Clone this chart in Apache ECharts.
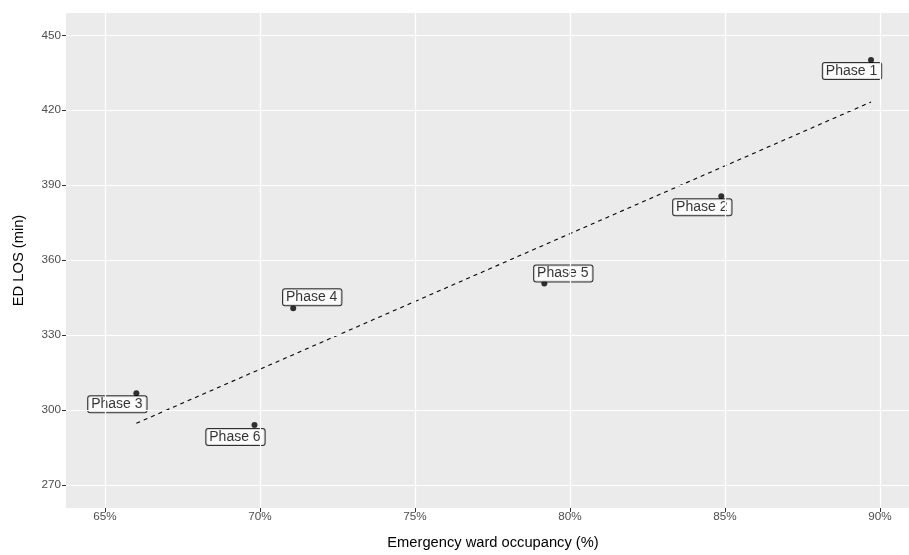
<!DOCTYPE html>
<html>
<head>
<meta charset="utf-8">
<script src="https://cdn.jsdelivr.net/npm/echarts@6/dist/echarts.min.js"></script>
<style>
html,body{margin:0;padding:0;background:#fff;}
#chart{width:909px;height:555px;}
</style>
</head>
<body>
<div id="chart"></div>
<script>
// ---- data ----
const phases = ['Phase 1', 'Phase 2', 'Phase 3', 'Phase 4', 'Phase 5', 'Phase 6'];
const occupancy = [89.71, 84.88, 66.01, 71.07, 79.17, 69.82];   // %
const edLos = [440.1, 385.6, 306.7, 340.7, 350.7, 294.0];        // min
const trendX = [66.01, 89.71];
const trendY = [294.7, 423.3];
const xTicks = [65, 70, 75, 80, 85, 90];
const yTicks = [270, 300, 330, 360, 390, 420, 450];

// label placement (styling): offsets of label boxes from their points
const labelOffset = {
  'Phase 1': [-19, 11], 'Phase 2': [-19, 11], 'Phase 3': [-19, 11],
  'Phase 4': [19, -11], 'Phase 5': [19, -10], 'Phase 6': [-19, 12]
};

const FONT = '"Liberation Sans", Arial, Helvetica, sans-serif';
const SYMBOL = 6;

const chart = echarts.init(document.getElementById('chart'), null, {renderer: 'canvas'});

const gridLineData = [];
xTicks.forEach(v => gridLineData.push({xAxis: v}));
yTicks.forEach(v => gridLineData.push({yAxis: v}));

const option = {
  animation: false,
  backgroundColor: '#ffffff',
  grid: {
    left: 66, top: 13, right: 0, bottom: 47,
    show: true, backgroundColor: '#EBEBEB', borderWidth: 0
  },
  xAxis: {
    type: 'value',
    min: 63.74, max: 90.935,
    name: 'Emergency ward occupancy (%)',
    nameLocation: 'middle',
    nameGap: 27,
    nameTextStyle: {color: '#000', fontSize: 14.7, fontFamily: FONT, padding: [0, 0, 0, 11]},
    axisLine: {show: false},
    splitLine: {show: false},
    axisTick: {show: true, customValues: xTicks, length: 4, lineStyle: {color: '#333333', width: 1}},
    axisLabel: {customValues: xTicks, formatter: v => v + '%', color: '#4D4D4D', fontSize: 11.7, fontFamily: FONT, margin: 3}
  },
  yAxis: {
    type: 'value',
    min: 260.8, max: 458.92,
    name: 'ED LOS (min)',
    nameLocation: 'middle',
    nameGap: 40,
    nameTextStyle: {color: '#000', fontSize: 14.7, fontFamily: FONT},
    axisLine: {show: false},
    splitLine: {show: false},
    axisTick: {show: true, customValues: yTicks, length: 4, lineStyle: {color: '#333333', width: 1}},
    axisLabel: {customValues: yTicks, color: '#4D4D4D', fontSize: 11.7, fontFamily: FONT, margin: 5}
  },
  series: [
    {
      type: 'line',
      name: 'grid',
      data: [],
      silent: true,
      z: 0,
      markLine: {
        silent: true,
        symbol: ['none', 'none'],
        label: {show: false},
        lineStyle: {color: '#ffffff', width: 1.2, type: 'solid'},
        data: gridLineData,
        animation: false
      }
    },
    {
      type: 'line',
      name: 'trend',
      data: trendX.map((x, i) => [x, trendY[i]]),
      showSymbol: false,
      symbol: 'none',
      lineStyle: {color: '#000', width: 1.1, type: [4, 4]},
      z: 2
    },
    {
      type: 'scatter',
      name: 'phases',
      symbolSize: SYMBOL,
      itemStyle: {color: '#000'},
      z: 3,
      data: phases.map((p, i) => ({
        value: [occupancy[i], edLos[i]],
        name: p,
        label: {position: [SYMBOL / 2 + labelOffset[p][0], SYMBOL / 2 + labelOffset[p][1]]}
      })),
      labelLayout: {hideOverlap: false},
      label: {
        show: true,
        align: 'center',
        verticalAlign: 'middle',
        formatter: p => p.name,
        color: '#000',
        fontSize: 14,
        fontFamily: FONT,
        backgroundColor: '#ffffff',
        borderColor: '#000',
        borderWidth: 1,
        borderRadius: 2,
        padding: [1, 4, 0, 3],
        lineHeight: 15
      }
    }
  ]
};
chart.setOption(option);
</script>
</body>
</html>
